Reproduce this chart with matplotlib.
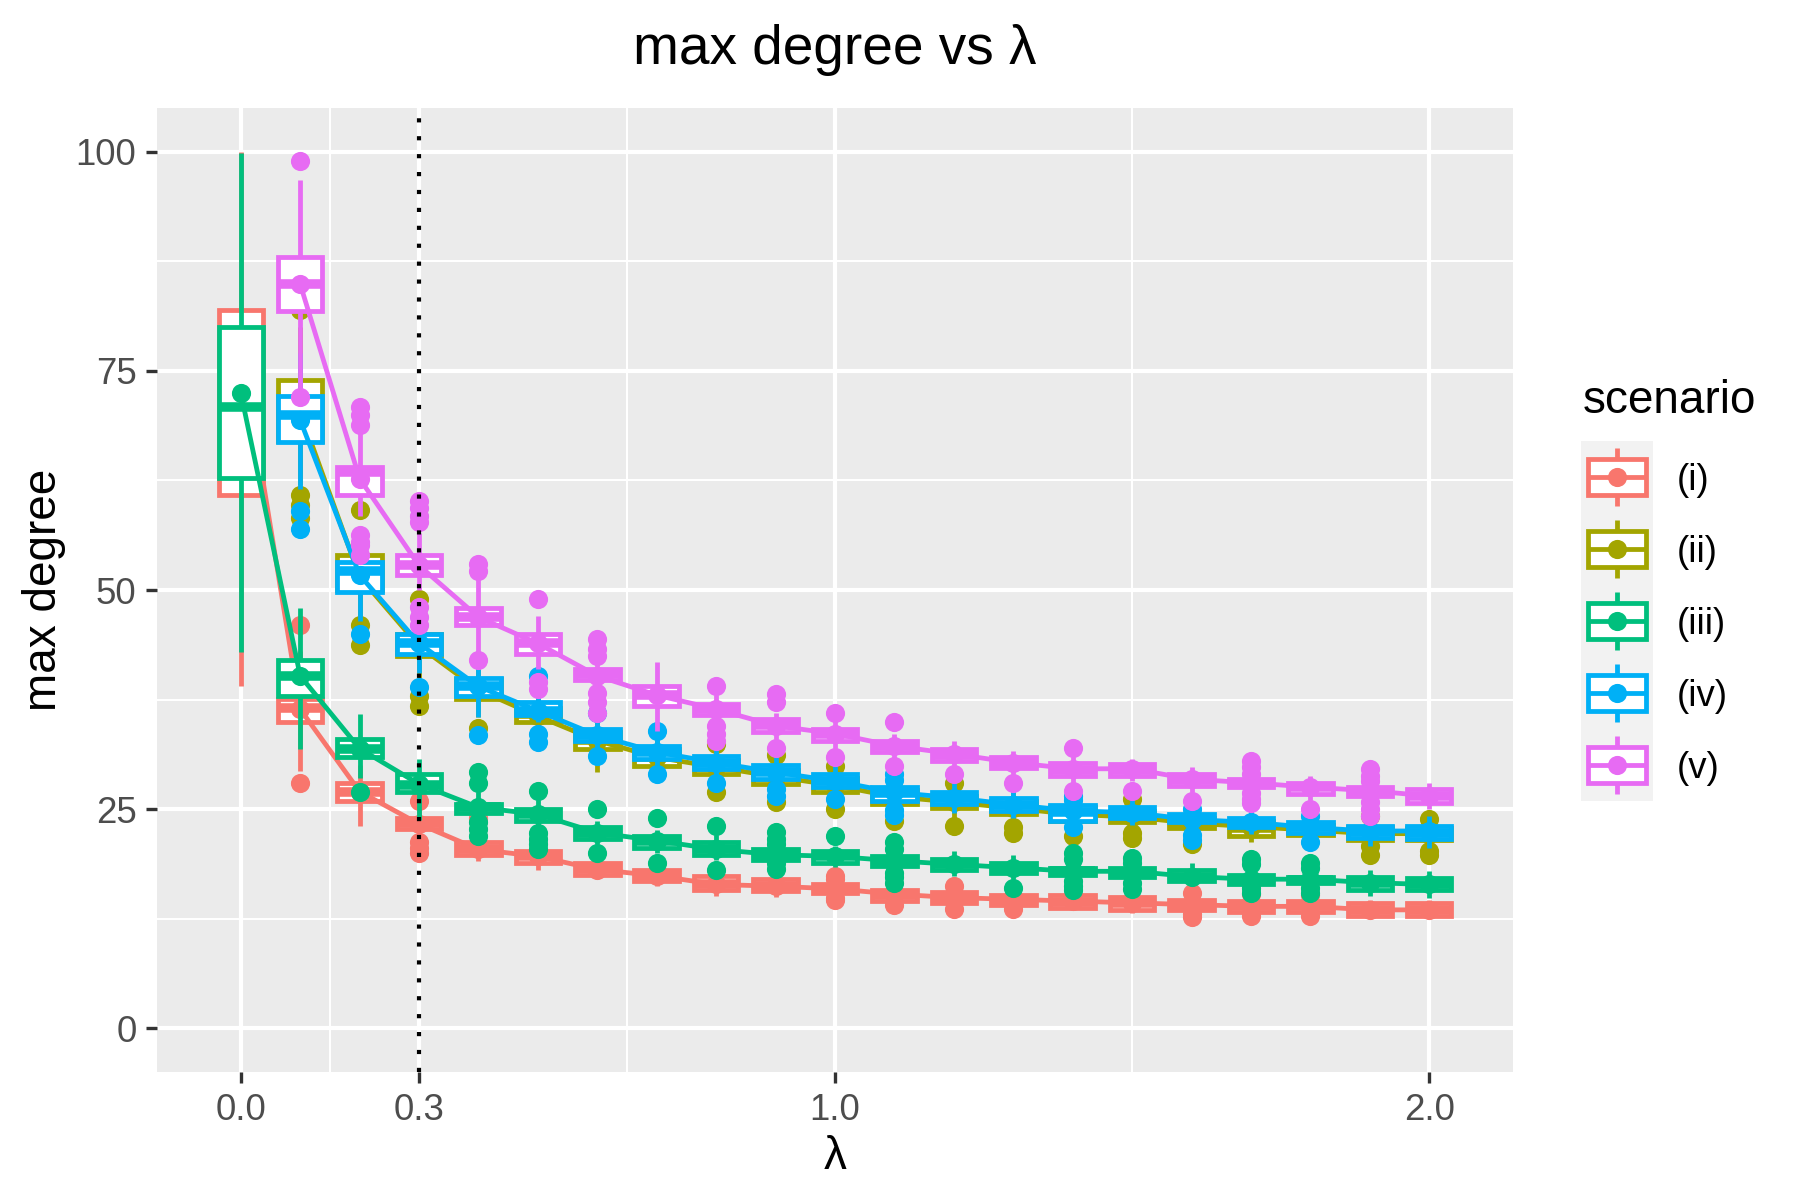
import numpy as np
import matplotlib
matplotlib.use("Agg")
import matplotlib.pyplot as plt
from matplotlib.patches import Rectangle

plt.rcParams['font.family'] = ['Liberation Sans', 'DejaVu Sans']

nan = np.nan
lam = [0.0, 0.1, 0.2, 0.3, 0.4, 0.5, 0.6, 0.7, 0.8, 0.9, 1.0,
       1.1, 1.2, 1.3, 1.4, 1.5, 1.6, 1.7, 1.8, 1.9, 2.0]
scenarios = ["(i)", "(ii)", "(iii)", "(iv)", "(v)"]
colors = ["#F8766D", "#A3A500", "#00BF7D", "#00B0F6", "#E76BF3"]
x_ticks = [0.0, 0.3, 1.0, 2.0]
x_ticklabels = ["0.0", "0.3", "1.0", "2.0"]
y_ticks = [0, 25, 50, 75, 100]
y_ticklabels = ["0", "25", "50", "75", "100"]
vline_x = 0.3

# ---- scenario (i)
mean_i = [78.0, 36.4, 27.0, 23.3, 20.4, 19.6, 18.1, 17.4, 16.4, 16.2, 15.9, 15.3, 14.9, 14.7, 14.5, 14.3, 14.1, 13.9, 13.9, 13.5, 13.5]
med_i = [71.0, 36.5, 27.0, 23.4, 20.5, 19.6, 18.2, 17.4, 16.5, 16.2, 16.0, 15.2, 14.9, 14.6, 14.4, 14.3, 14.0, 13.9, 13.9, 13.5, 13.5]
q1_i = [60.8, 34.9, 25.9, 22.7, 19.8, 18.9, 17.5, 16.8, 15.8, 15.6, 15.4, 14.5, 14.3, 14.1, 13.7, 13.5, 13.5, 13.3, 13.3, 12.8, 12.8]
q3_i = [82.0, 37.6, 28.0, 24.0, 21.2, 20.2, 18.9, 18.1, 17.4, 17.0, 16.4, 15.8, 15.5, 15.2, 15.2, 15.0, 14.6, 14.5, 14.5, 14.3, 14.3]
lo_i = [39.0, 29.3, 23.1, 22.0, 19.1, 18.1, 17.2, 16.2, 15.1, 15.0, 15.2, 14.2, 14.0, 13.9, 13.6, 13.2, 13.3, 13.1, 13.1, 12.6, 12.6]
hi_i = [100.0, 43.0, 30.0, 25.0, 22.3, 21.3, 19.8, 19.0, 18.0, 17.8, 16.6, 16.2, 15.8, 15.6, 15.8, 15.4, 14.9, 14.8, 14.8, 14.6, 14.6]
out_i = [[], [46.0, 28.0], [], [25.9, 21.2, 20.6, 20.0], [24.0], [], [], [], [], [],
         [17.4, 17.0, 14.9, 14.6], [14.0], [16.2, 13.6], [13.6], [], [], [15.4, 13.0, 12.7],
         [15.3, 12.8], [15.2, 12.8], [], []]

# ---- scenario (ii)
mean_ii = [nan, 70.3, 51.5, 43.6, 38.6, 35.6, 32.8, 30.9, 29.8, 28.7, 27.7, 26.4, 25.8, 25.1, 24.4, 24.1, 23.4, 23.0, 22.6, 22.2, 22.2]
med_ii = [nan, 70.5, 52.0, 43.8, 38.8, 35.8, 32.9, 31.0, 29.8, 28.7, 27.7, 26.4, 25.8, 25.1, 24.4, 24.1, 23.4, 22.8, 22.6, 22.2, 22.2]
q1_ii = [nan, 67.0, 50.0, 42.5, 37.6, 34.9, 31.8, 29.9, 29.0, 27.9, 27.0, 25.6, 25.1, 24.4, 23.6, 23.5, 22.8, 21.9, 22.0, 21.5, 21.5]
q3_ii = [nan, 74.0, 54.0, 45.0, 39.8, 36.5, 33.8, 31.8, 30.6, 29.5, 28.5, 27.2, 26.5, 25.9, 25.2, 24.8, 24.0, 23.6, 23.2, 22.9, 22.8]
lo_ii = [nan, 62.0, 47.0, 40.0, 35.5, 33.0, 29.2, 28.5, 27.8, 26.8, 26.0, 24.5, 24.0, 23.4, 22.6, 22.9, 22.0, 21.2, 21.4, 20.9, 20.8]
hi_ii = [nan, 80.0, 57.0, 47.0, 42.0, 38.5, 36.0, 33.5, 31.8, 30.6, 29.5, 28.3, 27.5, 27.0, 26.2, 25.6, 25.0, 24.6, 24.0, 23.8, 23.4]
out_ii = [[], [82.0, 60.8, 59.7, 58.2], [59.1, 46.0, 43.7], [49.0, 37.9, 36.8], [34.2], [], [], [],
          [32.4, 26.9], [31.2, 25.8], [29.9, 25.0], [23.6], [28.0, 23.1], [22.9, 22.3], [21.9],
          [26.1, 22.3, 21.7], [21.0], [], [], [24.2, 20.8, 19.8], [23.9, 20.2, 19.8]]

# ---- scenario (iii)
mean_iii = [72.5, 40.2, 31.9, 27.85, 25.2, 24.4, 22.3, 21.4, 20.4, 19.8, 19.6, 19.1, 18.7, 18.3, 17.9, 17.9, 17.3, 17.0, 17.0, 16.6, 16.4]
med_iii = [70.9, 40.2, 31.9, 27.8, 25.2, 24.4, 22.3, 21.4, 20.5, 19.8, 19.6, 19.1, 18.7, 18.3, 17.9, 17.8, 17.3, 17.0, 16.9, 16.6, 16.4]
q1_iii = [62.8, 37.95, 30.9, 26.9, 24.6, 23.6, 21.55, 20.6, 19.8, 19.2, 18.9, 18.5, 18.1, 17.7, 17.5, 17.3, 16.8, 16.4, 16.6, 15.8, 15.8]
q3_iii = [80.0, 41.96, 33.0, 29.0, 25.6, 25.0, 22.9, 21.9, 21.2, 20.4, 20.2, 19.6, 19.3, 18.9, 18.3, 18.3, 18.1, 17.5, 17.3, 17.3, 17.1]
lo_iii = [42.9, 31.8, 28.5, 23.8, 24.0, 22.8, 21.0, 20.0, 19.2, 19.2, 18.4, 18.0, 17.4, 17.0, 17.2, 17.0, 16.4, 16.2, 16.3, 15.1, 14.9]
hi_iii = [99.9, 47.9, 35.9, 30.7, 27.0, 26.0, 23.6, 22.6, 22.0, 20.6, 20.8, 20.0, 20.2, 19.8, 18.6, 18.6, 18.9, 17.9, 17.6, 18.0, 17.9]
out_iii = [[], [], [26.9], [], [29.2, 28.0, 23.5, 22.7, 21.9], [27.1, 22.3, 21.6, 21.0, 20.4],
           [25.05, 20.0], [24.0, 18.9], [23.1, 18.1], [22.4, 21.6, 21.0, 18.8, 18.2], [21.9],
           [21.2, 20.5, 17.7, 17.2, 16.6], [], [16.0], [20.0, 19.3, 16.8, 16.2, 15.8],
           [19.4, 18.9, 16.6, 15.9], [], [19.3, 18.7, 16.0, 15.4], [18.9, 18.3, 16.0, 15.4], [], []]

# ---- scenario (iv)
mean_iv = [nan, 69.4, 51.7, 43.9, 39.0, 36.2, 33.4, 31.5, 30.3, 29.2, 28.2, 26.9, 26.3, 25.5, 24.8, 24.6, 23.8, 23.5, 22.9, 22.5, 22.5]
med_iv = [nan, 70.0, 52.2, 43.9, 39.0, 36.2, 33.4, 31.5, 30.3, 29.2, 28.2, 26.8, 26.3, 25.5, 24.7, 24.6, 23.9, 23.5, 22.9, 22.4, 22.3]
q1_iv = [nan, 66.9, 49.8, 42.7, 37.95, 35.7, 32.8, 30.7, 29.6, 28.4, 27.5, 25.9, 25.6, 24.8, 23.6, 24.0, 23.5, 22.9, 22.3, 21.7, 21.6]
q3_iv = [nan, 72.1, 53.2, 45.0, 40.0, 37.2, 34.1, 32.2, 31.1, 30.0, 29.0, 27.5, 26.9, 26.3, 25.5, 25.2, 24.4, 24.0, 23.5, 23.1, 23.1]
lo_iv = [nan, 61.5, 46.5, 40.5, 35.5, 34.9, 32.0, 30.0, 28.8, 27.8, 26.8, 25.4, 24.6, 24.0, 23.3, 23.2, 22.8, 22.2, 21.8, 20.8, 20.6]
hi_iv = [nan, 77.0, 56.0, 47.0, 42.0, 38.5, 35.3, 33.0, 32.2, 31.0, 30.0, 28.0, 28.0, 27.3, 26.0, 26.0, 24.8, 25.0, 23.9, 24.0, 24.2]
out_iv = [[], [59.0, 57.0], [45.0], [38.9], [33.5], [40.2, 33.6, 32.6], [36.0, 31.1], [33.9, 29.0],
          [28.0], [27.3, 26.5], [26.1], [29.0, 28.3, 24.9, 24.3], [], [], [26.5, 26.0, 23.0], [],
          [25.0, 22.0, 21.5], [], [24.2, 21.2], [], []]

# ---- scenario (v)
mean_v = [nan, 84.9, 62.7, 52.8, 46.9, 43.9, 40.2, 38.0, 36.4, 34.5, 33.6, 32.2, 31.3, 30.3, 29.6, 29.6, 28.4, 28.0, 27.5, 27.1, 26.5]
med_v = [nan, 84.9, 63.5, 52.8, 46.9, 43.9, 40.4, 38.0, 36.4, 34.6, 33.6, 32.2, 31.2, 30.3, 29.5, 29.5, 28.3, 28.0, 27.5, 27.0, 26.5]
q1_v = [nan, 81.8, 60.8, 51.7, 45.96, 42.7, 39.7, 36.8, 35.7, 33.8, 32.8, 31.5, 30.5, 29.7, 28.8, 28.8, 27.6, 27.5, 26.7, 26.5, 25.7]
q3_v = [nan, 88.0, 64.0, 54.05, 47.9, 45.0, 41.0, 39.1, 37.0, 35.3, 34.1, 32.8, 31.9, 30.9, 30.3, 30.1, 29.0, 28.4, 28.0, 27.5, 27.3]
lo_v = [nan, 72.6, 58.5, 50.0, 42.6, 41.0, 38.9, 33.9, 35.0, 33.0, 32.0, 30.8, 30.0, 29.0, 28.0, 28.2, 27.0, 27.0, 26.0, 26.0, 25.0]
hi_v = [nan, 96.8, 68.1, 56.5, 51.5, 47.0, 41.8, 41.8, 38.0, 36.0, 35.0, 33.6, 32.8, 31.6, 31.0, 30.7, 29.8, 29.0, 28.8, 28.0, 28.0]
out_v = [[], [98.9, 72.0], [70.9, 70.0, 68.8, 56.3, 55.5, 55.1, 54.0],
         [60.1, 59.3, 58.5, 57.8, 48.1, 46.9, 45.96], [53.0, 52.2, 42.0], [49.0, 39.5, 38.7],
         [44.4, 43.3, 42.5, 38.3, 37.2, 36.0], [], [39.1, 34.5, 33.6, 32.8], [38.1, 37.2, 32.0],
         [36.0, 30.9], [34.9, 29.9], [29.0], [28.0], [32.0, 27.1], [27.1], [25.9],
         [30.5, 29.8, 29.0, 26.8, 26.2, 25.7], [25.0], [29.6, 28.8, 28.2, 25.8, 25.0, 24.2], []]

series = [
    (mean_i, med_i, q1_i, q3_i, lo_i, hi_i, out_i),
    (mean_ii, med_ii, q1_ii, q3_ii, lo_ii, hi_ii, out_ii),
    (mean_iii, med_iii, q1_iii, q3_iii, lo_iii, hi_iii, out_iii),
    (mean_iv, med_iv, q1_iv, q3_iv, lo_iv, hi_iv, out_iv),
    (mean_v, med_v, q1_v, q3_v, lo_v, hi_v, out_v),
]

# ---------------- figure ----------------
W, H = 1800, 1200
fig = plt.figure(figsize=(6, 4), dpi=300)


def fx(px):
    return px / W


def fy(py):
    return 1 - py / H


ax = fig.add_axes([fx(157), fy(1072), (1513 - 157) / W, (1072 - 108) / H])
ax.set_facecolor('#EBEBEB')
ax.set_xlim(-0.141, 2.141)
ax.set_ylim(-5, 105)
for s in ax.spines.values():
    s.set_visible(False)
ax.set_xticks(x_ticks)
ax.set_xticklabels(x_ticklabels)
ax.set_xticks([0.15, 0.65, 1.5], minor=True)
ax.set_yticks(y_ticks)
ax.set_yticklabels(y_ticklabels)
ax.set_yticks([12.5, 37.5, 62.5, 87.5], minor=True)
ax.set_axisbelow(True)
ax.grid(which='major', color='white', lw=1.0)
ax.grid(which='minor', color='white', lw=0.5)
ax.tick_params(which='minor', length=0)
ax.tick_params(which='major', length=2.75, width=0.8, color='#333333',
               labelcolor='#4D4D4D', labelsize=8.8, pad=2.2)

bw = 0.075
LW = 1.15
MS = 4.6
for k, (mean, med, q1, q3, lo, hi, out) in enumerate(series):
    c = colors[k]
    z = 2 + k
    xs_valid, m_valid = [], []
    for i, x in enumerate(lam):
        if np.isnan(mean[i]):
            continue
        xs_valid.append(x)
        m_valid.append(mean[i])
        if out[i]:
            ax.plot([x] * len(out[i]), out[i], 'o', color=c, ms=MS, mec='none', zorder=z + 0.01)
        ax.plot([x, x], [q3[i], hi[i]], color=c, lw=LW, solid_capstyle='butt', zorder=z + 0.02)
        ax.plot([x, x], [lo[i], q1[i]], color=c, lw=LW, solid_capstyle='butt', zorder=z + 0.02)
        ax.add_patch(Rectangle((x - bw / 2, q1[i]), bw, q3[i] - q1[i], fc='white', ec=c,
                               lw=LW, zorder=z + 0.03))
        ax.plot([x - bw / 2, x + bw / 2], [med[i], med[i]], color=c, lw=2 * LW,
                solid_capstyle='butt', zorder=z + 0.04)
    ax.plot(xs_valid, m_valid, color=c, lw=LW, zorder=z + 0.05)
    ax.plot(xs_valid, m_valid, 'o', color=c, ms=MS, mec='none', zorder=z + 0.06)

ax.axvline(vline_x, color='black', lw=1.0, linestyle=(0, (1, 3.3)), zorder=20)

# titles
fig.text(fx(835), fy(50), 'max degree vs λ', fontsize=13.2, ha='center', va='center')
fig.text(fx(835), fy(1157), 'λ', fontsize=11, ha='center', va='center')
fig.text(fx(44), fy(590), 'max degree', fontsize=11, ha='center', va='center', rotation=90)

# legend
lax = fig.add_axes([fx(1581), fy(801), 72 / W, 360 / H])
lax.set_xlim(0, 72)
lax.set_ylim(360, 0)
lax.axis('off')
lax.add_patch(Rectangle((0, 0), 72, 360, fc='#F2F2F2', ec='none'))
for k, lab in enumerate(scenarios):
    c = colors[k]
    top = 72 * k
    lax.plot([36, 36], [top + 7.2, top + 18], color=c, lw=LW, solid_capstyle='butt')
    lax.plot([36, 36], [top + 54, top + 64.8], color=c, lw=LW, solid_capstyle='butt')
    lax.add_patch(Rectangle((7.2, top + 18), 57.6, 36, fc='white', ec=c, lw=LW))
    lax.plot([7.2, 64.8], [top + 36, top + 36], color=c, lw=LW, solid_capstyle='butt')
    lax.plot([36], [top + 36], 'o', color=c, ms=MS, mec='none')
    fig.text(fx(1677), fy(481 + 72 * k), lab, fontsize=8.8, ha='left', va='center')
fig.text(fx(1583), fy(413), 'scenario', fontsize=11, ha='left', va='baseline')

fig.savefig('out.png', dpi=300, facecolor='white')
